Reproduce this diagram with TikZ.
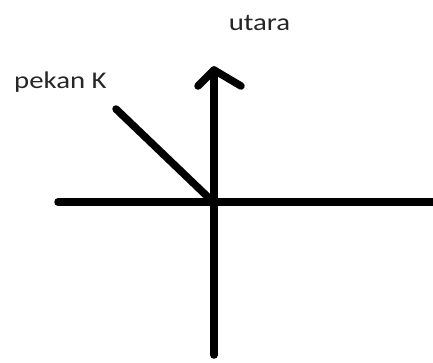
\documentclass[tikz,border=0pt]{standalone}
\usepackage{fontspec}
\setmainfont{Carlito}
\begin{document}
\begin{tikzpicture}[x=1pt,y=-1pt,
  stroke/.style={line width=7.5pt,line cap=round,line join=round,black},
  lbl/.style={inner sep=0pt,text=black!85,font=\fontsize{24}{28}\selectfont,xscale=1.2,transform shape}]
\useasboundingbox (0,0) rectangle (433,362);
\coordinate (O) at (214,202);
\coordinate (W) at (58,202);
\coordinate (E) at (436,202);
\coordinate (S) at (214,355);
\coordinate (N) at (214,70);
\coordinate (AL) at (198,86);
\coordinate (AR) at (241,86);
\coordinate (K) at (116,109);
\coordinate (Kend) at (210,199);
\draw[stroke] (W) -- (E);
\draw[stroke] (S) -- (N);
\draw[stroke] (AL) -- (N) -- (AR);
\draw[stroke] (K) -- (Kend);
\node[lbl,anchor=base] (utara) at (259.5,30) {utara};
\node[lbl,anchor=base west] (pekan) at (14,88) {pekan K};
\end{tikzpicture}
\end{document}
